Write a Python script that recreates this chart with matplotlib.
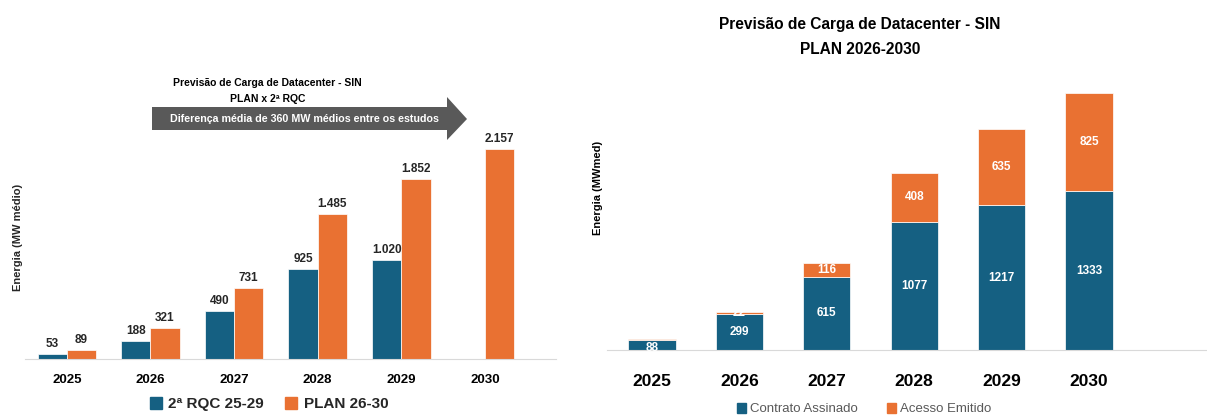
import matplotlib
matplotlib.use("Agg")
import matplotlib.pyplot as plt
import numpy as np
from matplotlib.patches import Polygon, Patch

plt.rcParams['font.family'] = ['Liberation Sans Narrow', 'Liberation Sans', 'DejaVu Sans']

# dados - painel esquerdo
anos = ['2025', '2026', '2027', '2028', '2029', '2030']
rqc = [53, 188, 490, 925, 1020, None]
plan = [89, 321, 731, 1485, 1852, 2157]

# dados - painel direito
contrato = [88, 299, 615, 1077, 1217, 1333]
acesso = [1, 22, 116, 408, 635, 825]

azul = '#156082'
laranja = '#E97132'
W, H = 1207, 417

fig = plt.figure(figsize=(W / 100, H / 100), dpi=100)


def fx(x):
    return x / W


def fy(y):
    return 1 - y / H


def fmt(v):
    return f'{v:,}'.replace(',', '.')


# ---------- painel esquerdo ----------
ax1 = fig.add_axes([fx(25), fy(359), fx(556 - 25), (359 - 149) / H])
x = np.arange(len(anos))
bw = 0.35
rqc_x = [xi - bw / 2 for xi, v in zip(x, rqc) if v is not None]
rqc_v = [v for v in rqc if v is not None]
b1 = ax1.bar(rqc_x, rqc_v, bw, color=azul, edgecolor='white', linewidth=0.5)
b2 = ax1.bar(x + bw / 2, plan, bw, color=laranja, edgecolor='white', linewidth=0.5)
for bars, vals in [(b1, rqc_v), (b2, plan)]:
    for r, v in zip(bars, vals):
        ax1.annotate(fmt(v), (r.get_x() + r.get_width() / 2, v), xytext=(0, 3),
                     textcoords='offset points', ha='center', va='bottom',
                     fontsize=8.5, fontweight='bold', color='#262626')
ax1.set_xlim(-0.5, 5.85)
ax1.set_ylim(0, 2157)
ax1.set_xticks(x)
ax1.set_xticklabels(anos, fontsize=9.5, fontweight='bold')
ax1.tick_params(axis='x', length=0, pad=11)
ax1.set_yticks([])
for s in ['top', 'right', 'left']:
    ax1.spines[s].set_visible(False)
ax1.spines['bottom'].set_color('#d9d9d9')

fig.text(fx(18), fy(237), 'Energia (MW médio)', rotation=90, ha='center', va='center',
         fontsize=8, fontweight='bold', color='#262626')

# seta
seta = [(152, 107), (447, 107), (447, 97), (467, 119), (447, 140), (447, 130), (152, 130)]
fig.patches.append(Polygon([(fx(a), fy(b)) for a, b in seta], closed=True,
                           transform=fig.transFigure, facecolor='#595959', edgecolor='none'))
fig.text(fx(304), fy(119), 'Diferença média de 360 MW médios entre os estudos', ha='center',
         va='center', fontsize=7.7, fontweight='bold', color='white')
fig.text(fx(267), fy(83), 'Previsão de Carga de Datacenter - SIN', ha='center', va='center',
         fontsize=7.5, fontweight='bold', color='black')
fig.text(fx(268), fy(99), 'PLAN x 2ª RQC', ha='center', va='center',
         fontsize=7.5, fontweight='bold', color='black')

fig.legend(handles=[Patch(color=azul, label='2ª RQC 25-29'), Patch(color=laranja, label='PLAN 26-30')],
           loc='center', bbox_to_anchor=(fx(269), fy(404)), ncol=2, frameon=False,
           prop={'size': 11, 'weight': 'bold'}, handlelength=0.8, handleheight=0.9,
           handletextpad=0.4, columnspacing=1.4, labelcolor='#262626')

# ---------- painel direito ----------
ax2 = fig.add_axes([fx(607), fy(350), fx(W - 607), (350 - 93) / H])
bw2 = 0.54
c1 = ax2.bar(x, contrato, bw2, color=azul, edgecolor='white', linewidth=0.5)
c2 = ax2.bar(x, acesso, bw2, bottom=contrato, color=laranja, edgecolor='white', linewidth=0.5)
t1 = ax2.bar_label(c1, labels=[str(v) for v in contrato], label_type='center', color='white',
                   fontsize=8.5, fontweight='bold')
t2 = ax2.bar_label(c2, labels=[str(v) for v in acesso], label_type='center', color='white',
                   fontsize=8.5, fontweight='bold')
# 2025: rótulos muito próximos, afasta um pouco
t1[0].xyann = (0, -2.5)
t2[0].xyann = (0, 4)
ax2.set_xlim(-0.515, 6.35)
ax2.set_ylim(0, 2158)
ax2.set_xticks(x)
ax2.set_xticklabels(anos, fontsize=12.5, fontweight='bold')
ax2.tick_params(axis='x', length=0, pad=17)
ax2.set_yticks([])
for s in ['top', 'right', 'left']:
    ax2.spines[s].set_visible(False)
ax2.spines['bottom'].set_color('#d9d9d9')

fig.text(fx(598), fy(188), 'Energia (MWmed)', rotation=90, ha='center', va='center',
         fontsize=8, fontweight='bold', color='black')
fig.text(fx(860), fy(25), 'Previsão de Carga de Datacenter - SIN', ha='center', va='center',
         fontsize=11.2, fontweight='bold', color='black')
fig.text(fx(860), fy(49), 'PLAN 2026-2030', ha='center', va='center',
         fontsize=11.2, fontweight='bold', color='black')

fig.legend(handles=[Patch(color=azul, label='Contrato Assinado'), Patch(color=laranja, label='Acesso Emitido')],
           loc='center', bbox_to_anchor=(fx(864), fy(409)), ncol=2, frameon=False,
           prop={'size': 9.5}, handlelength=0.7, handleheight=0.8,
           handletextpad=0.3, columnspacing=2.2, labelcolor='#595959')

fig.savefig('out.png', dpi=100)
